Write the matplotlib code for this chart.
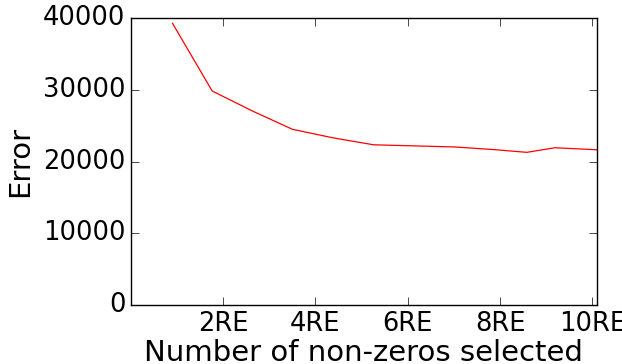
import numpy as np
import matplotlib
matplotlib.use('Agg')
import matplotlib.pyplot as plt

plt.style.use('classic')

# error vs number of selected non-zeros (in units of RE)
nonzeros = [0.90, 1.76, 2.63, 3.50, 4.38, 5.26, 6.14, 7.02, 7.89, 8.58, 9.19, 10.1]
error = [39260, 29830, 27050, 24490, 23300, 22330, 22180, 22030, 21650, 21280, 21920, 21640]

xticks = [2, 4, 6, 8, 10]
xticklabels = ['2RE', '4RE', '6RE', '8RE', '10RE']
yticks = [0, 10000, 20000, 30000, 40000]

fig = plt.figure(figsize=(6.22, 3.64), dpi=100)
fig.patch.set_facecolor('white')
ax = fig.add_axes([0.2106, 0.162, 0.749, 0.7885])
ax.plot(nonzeros, error, 'r-', linewidth=0.9)
ax.set_xlim(0, 10.1)
ax.set_ylim(0, 40000)
ax.set_xticks(xticks)
ax.set_xticklabels(xticklabels)
ax.set_yticks(yticks)
ax.tick_params(labelsize=18.5, length=6)
ax.set_xlabel('Number of non-zeros selected', fontsize=21, labelpad=2)
ax.set_ylabel('Error', fontsize=21, labelpad=6)
plt.savefig('out.png', dpi=100, facecolor='white')
